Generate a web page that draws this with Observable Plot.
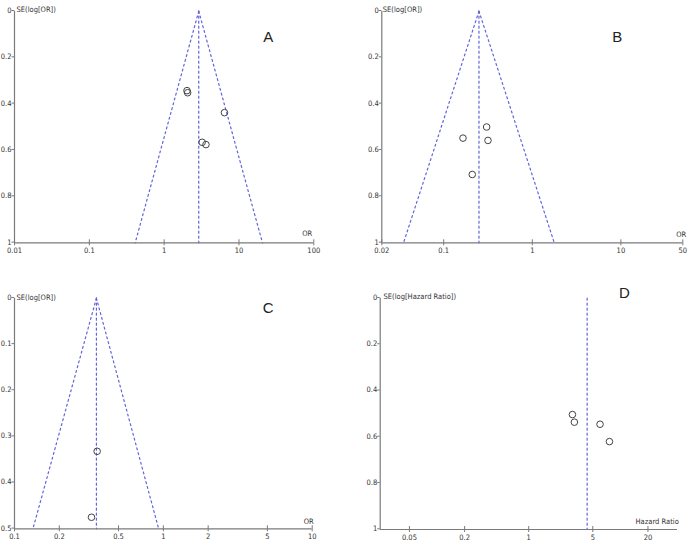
<!DOCTYPE html>
<html><head><meta charset="utf-8">
<script src="https://cdn.jsdelivr.net/npm/d3@7"></script>
<script src="https://cdn.jsdelivr.net/npm/@observablehq/plot@0.6"></script>
<style>
body{margin:0;background:#fff;}
#wrap{position:relative;width:688px;height:541px;overflow:hidden;}
.panel{position:absolute;}
.panel svg{overflow:visible;}
</style></head><body><div id="wrap"></div>
<script>
// ---- Panel A ----
const aStudyOR = [2.02, 2.06, 6.4, 3.22, 3.62];
const aStudySE = [0.343, 0.352, 0.438, 0.566, 0.576];
const aPooled = 2.9;
const aFunnelEnds = [0.41, 20.6];
const aXTicks = [0.01, 0.1, 1, 10, 100];
const aXTickLabels = ["0.01", "0.1", "1", "10", "100"];
const aYTicks = [0, 0.2, 0.4, 0.6, 0.8, 1];
const aYTickLabels = ["0", "0.2", "0.4", "0.6", "0.8", "1"];

// ---- Panel B ----
const bStudyOR = [0.305, 0.165, 0.316, 0.21];
const bStudySE = [0.50, 0.548, 0.558, 0.705];
const bPooled = 0.25;
const bFunnelEnds = [0.0352, 1.77];
const bXTicks = [0.02, 0.1, 1, 10, 50];
const bXTickLabels = ["0.02", "0.1", "1", "10", "50"];
const bYTicks = [0, 0.2, 0.4, 0.6, 0.8, 1];
const bYTickLabels = ["0", "0.2", "0.4", "0.6", "0.8", "1"];

// ---- Panel C ----
const cStudyOR = [0.359, 0.329];
const cStudySE = [0.332, 0.475];
const cPooled = 0.355;
const cFunnelEnds = [0.133, 0.93];
const cXTicks = [0.1, 0.2, 0.5, 1, 2, 5, 10];
const cXTickLabels = ["0.1", "0.2", "0.5", "1", "2", "5", "10"];
const cYTicks = [0, 0.1, 0.2, 0.3, 0.4, 0.5];
const cYTickLabels = ["0", "0.1", "0.2", "0.3", "0.4", "0.5"];

// ---- Panel D ----
const dStudyHR = [3.0, 3.15, 6.0, 7.6];
const dStudySE = [0.503, 0.536, 0.545, 0.62];
const dPooled = 4.34;
const dXTicks = [0.05, 0.2, 1, 5, 20];
const dXTickLabels = ["0.05", "0.2", "1", "5", "20"];
const dYTicks = [0, 0.2, 0.4, 0.6, 0.8, 1];
const dYTickLabels = ["0", "0.2", "0.4", "0.6", "0.8", "1"];

const FONT = '"Liberation Sans Narrow", "DejaVu Sans Condensed", "Arial Narrow", "Liberation Sans", Arial, sans-serif';
const AXIS = "#7a7a7a";
const TEXT = "#333";
const DASH = "#6363dc";
const DASHES = "2,3";

function panel(cfg) {
  const xMap = new Map(cfg.xTicks.map((t, i) => [t, cfg.xTickLabels[i]]));
  const yMap = new Map(cfg.yTicks.map((t, i) => [t, cfg.yTickLabels[i]]));
  const seMax = cfg.yTicks[cfg.yTicks.length - 1];
  const pts = cfg.or.map((v, i) => ({x: v, y: cfg.se[i]}));
  const marks = [];
  const dashOpts = {x: "x", y: "y", stroke: DASH, strokeWidth: 1.2, strokeDasharray: DASHES};
  if (cfg.ends) {
    marks.push(Plot.line([{x: cfg.pooled, y: 0}, {x: cfg.ends[0], y: seMax}], dashOpts));
    marks.push(Plot.line([{x: cfg.pooled, y: 0}, {x: cfg.ends[1], y: seMax}], dashOpts));
  }
  marks.push(Plot.line([{x: cfg.pooled, y: 0}, {x: cfg.pooled, y: seMax}], dashOpts));
  marks.push(
    Plot.ruleY([seMax], {stroke: AXIS, strokeWidth: 1.2}),
    Plot.ruleX([cfg.xDomain[0]], {stroke: AXIS, strokeWidth: 1.2}),
    Plot.axisX(cfg.xTicks, {anchor: "bottom", tickSize: 6, dy: -3, tickFormat: () => "", label: null, stroke: AXIS}),
    Plot.text(cfg.xTicks, {x: d => d, text: d => xMap.get(d), frameAnchor: "bottom", lineAnchor: "top", dy: 5, fontSize: 7.5, fill: TEXT, fontFamily: FONT}),
    Plot.axisY(cfg.yTicks, {anchor: "left", tickSize: 2.5, tickPadding: 0.5, dy: -0.7, tickFormat: d => yMap.get(d), label: null, stroke: AXIS, fill: TEXT, fontSize: 7.5, fontFamily: FONT}),
    Plot.dot(pts, {x: "x", y: "y", r: 3.3, stroke: "#444", strokeWidth: 1, fill: "none"}),
    Plot.text([cfg.yLabel], {frameAnchor: "top-left", textAnchor: "start", dx: cfg.yLabelDx, dy: cfg.yLabelDy, fontSize: 7.5, fill: TEXT, fontFamily: FONT}),
    Plot.text([cfg.xLabel], {frameAnchor: "bottom-right", textAnchor: "end", dx: cfg.xLabelDx, dy: cfg.xLabelDy, fontSize: 7.5, fill: TEXT, fontFamily: FONT}),
    Plot.text([cfg.letter], {frameAnchor: "top-left", textAnchor: "middle", dx: cfg.letterDx, dy: cfg.letterDy, fontSize: 15, fill: "#222", fontFamily: '"Liberation Sans", Arial, sans-serif'})
  );
  const svg = Plot.plot({
    width: cfg.w, height: cfg.h,
    marginLeft: cfg.ml, marginRight: cfg.mr, marginTop: cfg.mt, marginBottom: cfg.mb,
    x: {type: "log", domain: cfg.xDomain},
    y: {domain: [0, seMax], reverse: true},
    style: {background: "transparent", fontFamily: FONT, overflow: "visible"},
    marks
  });
  const div = document.createElement("div");
  div.className = "panel";
  div.style.left = cfg.left + "px";
  div.style.top = cfg.top + "px";
  div.appendChild(svg);
  document.getElementById("wrap").appendChild(div);
}

panel({left: 0, top: 0, w: 344, h: 270, ml: 14, mr: 30.7, mt: 10.7, mb: 27.7,
  xDomain: [0.01, 100], xTicks: aXTicks, xTickLabels: aXTickLabels, yTicks: aYTicks, yTickLabels: aYTickLabels,
  or: aStudyOR, se: aStudySE, pooled: aPooled, ends: aFunnelEnds,
  yLabel: "SE(log[OR])", yLabelDx: 2, yLabelDy: -4.7, xLabel: "OR", xLabelDx: -1.6, xLabelDy: -6.6,
  letter: "A", letterDx: 253.7, letterDy: 20.3});

panel({left: 344, top: 0, w: 344, h: 270, ml: 37.3, mr: 5.7, mt: 10.7, mb: 27.7,
  xDomain: [0.02, 50], xTicks: bXTicks, xTickLabels: bXTickLabels, yTicks: bYTicks, yTickLabels: bYTickLabels,
  or: bStudyOR, se: bStudySE, pooled: bPooled, ends: bFunnelEnds,
  yLabel: "SE(log[OR])", yLabelDx: 1, yLabelDy: -4.7, xLabel: "OR", xLabelDx: 3.4, xLabelDy: -6.3,
  letter: "B", letterDx: 235.4, letterDy: 20.3});

panel({left: 0, top: 270, w: 344, h: 271, ml: 14, mr: 32.3, mt: 27.7, mb: 12.7,
  xDomain: [0.1, 10], xTicks: cXTicks, xTickLabels: cXTickLabels, yTicks: cYTicks, yTickLabels: cYTickLabels,
  or: cStudyOR, se: cStudySE, pooled: cPooled, ends: cFunnelEnds,
  yLabel: "SE(log[OR])", yLabelDx: 2, yLabelDy: -3.7, xLabel: "OR", xLabelDx: 1.6, xLabelDy: -5,
  letter: "C", letterDx: 253.7, letterDy: 4});

panel({left: 344, top: 270, w: 344, h: 271, ml: 35.7, mr: 11, mt: 27.7, mb: 12,
  xDomain: [0.024, 42], xTicks: dXTicks, xTickLabels: dXTickLabels, yTicks: dYTicks, yTickLabels: dYTickLabels,
  or: dStudyHR, se: dStudySE, pooled: dPooled, ends: null,
  yLabel: "SE(log[Hazard Ratio])", yLabelDx: 3.3, yLabelDy: -4.4, xLabel: "Hazard Ratio", xLabelDx: 1.3, xLabelDy: -5.7,
  letter: "D", letterDx: 244.3, letterDy: -11});
</script></body></html>
